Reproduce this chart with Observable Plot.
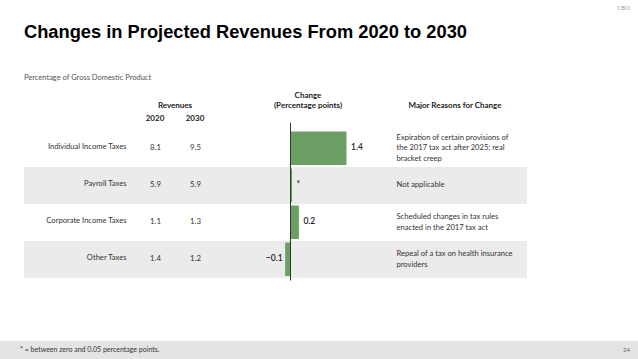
<!DOCTYPE html>
<html>
<head>
<meta charset="utf-8">
<script src="https://cdn.jsdelivr.net/npm/d3@7"></script>
<script src="https://cdn.jsdelivr.net/npm/@observablehq/plot@0.6"></script>
<style>
  html, body { margin: 0; padding: 0; background: #fff; }
  #page { position: relative; width: 638px; height: 359px; overflow: hidden; font-family: "Lato", "Open Sans", sans-serif; color: #333; }
  .abs { position: absolute; white-space: nowrap; }
  #cbo { right: 8px; top: 4px; font-size: 6px; color: #999; }
  #title { left: 24px; top: 21px; font-family: "Liberation Sans", Arial, sans-serif; font-weight: 900; font-size: 18.3px; color: #000; }
  #subtitle { left: 24px; top: 73px; font-size: 7.5px; color: #555; }
  .hdr { font-weight: 700; font-size: 8px; color: #222; text-align: center; line-height: 10px; }
  #footer { left: 0; top: 341px; width: 638px; height: 18px; background: #e4e4e4; }
  #note { left: 20px; top: 345px; font-size: 7px; color: #333; }
  #pagenum { right: 8px; top: 346px; font-size: 6px; color: #666; }
  #chart { position: absolute; left: 0; top: 0; }
</style>
</head>
<body>
<div id="page">
  <div id="chart"></div>
  <div class="abs" id="cbo">CBO</div>
  <div class="abs" id="title">Changes in Projected Revenues From 2020 to 2030</div>
  <div class="abs" id="subtitle">Percentage of Gross Domestic Product</div>
  <div class="abs hdr" style="left:155px; top:100px; width:40px;">Revenues</div>
  <div class="abs hdr" style="left:140px; top:113px; width:30px;">2020</div>
  <div class="abs hdr" style="left:180px; top:113px; width:30px;">2030</div>
  <div class="abs hdr" style="left:258px; top:90px; width:100px;">Change<br>(Percentage points)</div>
  <div class="abs hdr" style="left:400px; top:100px; width:110px;">Major Reasons for Change</div>
  <div class="abs" id="footer"></div>
  <div class="abs" id="note">* = between zero and 0.05 percentage points.</div>
  <div class="abs" id="pagenum">24</div>
</div>
<script>
const categories = ["Individual Income Taxes", "Payroll Taxes", "Corporate Income Taxes", "Other Taxes"];
const rev2020 = ["8.1", "5.9", "1.1", "1.4"];
const rev2030 = ["9.5", "5.9", "1.3", "1.2"];
const change = [1.4, 0.05, 0.22, -0.12];
const changeLabels = ["1.4", "*", "0.2", "\u22120.1"];
const reasons = [
  "Expiration of certain provisions of\nthe 2017 tax act after 2025; real\nbracket creep",
  "Not applicable",
  "Scheduled changes in tax rules\nenacted in the 2017 tax act",
  "Repeal of a tax on health insurance\nproviders"
];
const shaded = [false, true, false, true];

const rows = categories.map((c, i) => ({
  cat: c, r20: rev2020[i], r30: rev2030[i], change: change[i],
  label: changeLabels[i], reason: reasons[i], shaded: shaded[i]
}));

const font = "Lato, 'Open Sans', sans-serif";
const chart = Plot.plot({
  width: 638,
  height: 359,
  marginLeft: 24,
  marginRight: 111,
  marginTop: 128.5,
  marginBottom: 80.5,
  style: { fontFamily: font, background: "transparent" },
  x: { domain: [0, 1.4], range: [290, 346.5], axis: null },
  y: { domain: categories, padding: 0, axis: null },
  marks: [
    Plot.cell(rows.filter(d => d.shaded), { y: "cat", fill: "#ebebeb" }),
    Plot.barX(rows, { y: "cat", x: "change", fill: "#6b9f63", insetTop: 1.5, insetBottom: 2 }),
    Plot.ruleX([0], { stroke: "#333", strokeWidth: 1, insetTop: -6, insetBottom: -2 }),
    Plot.text(rows, { y: "cat", text: "cat", frameAnchor: "left", dx: 102, dy: -2, textAnchor: "end", fontSize: 7.6, fill: "#333" }),
    Plot.text(rows, { y: "cat", text: "r20", frameAnchor: "left", dx: 131, dy: -2, textAnchor: "middle", fontSize: 7.8, fill: "#333" }),
    Plot.text(rows, { y: "cat", text: "r30", frameAnchor: "left", dx: 171, dy: -2, textAnchor: "middle", fontSize: 7.8, fill: "#333" }),
    Plot.text(rows.filter(d => d.change >= 0), { y: "cat", x: "change", text: "label", textAnchor: "start", dx: 4, dy: -1.5, fontSize: 8.5, fontWeight: 600, fill: "#222" }),
    Plot.text(rows.filter(d => d.change < 0), { y: "cat", x: "change", text: "label", textAnchor: "end", dx: -3, dy: -1.5, fontSize: 8.5, fontWeight: 600, fill: "#222" }),
    Plot.text(rows, { y: "cat", text: "reason", frameAnchor: "left", dx: 372, dy: -2, textAnchor: "start", lineHeight: 1.4, fontSize: 7.6, fill: "#333" })
  ]
});
document.getElementById("chart").appendChild(chart);
</script>
</body>
</html>
